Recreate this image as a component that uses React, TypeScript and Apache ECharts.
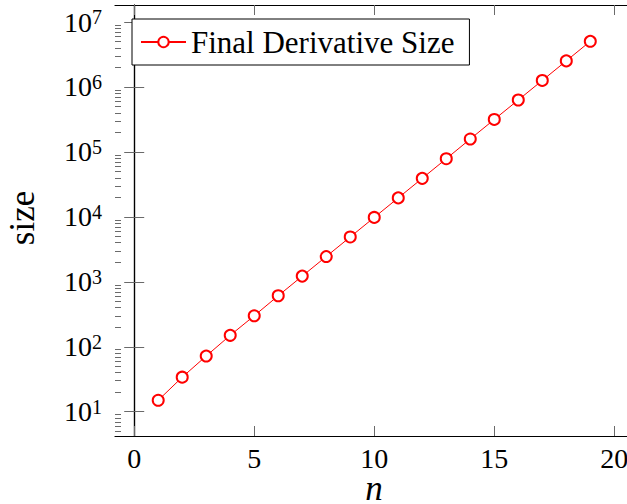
import React, { useEffect, useRef } from "react";
import * as echarts from "echarts";

const N_VALUES = [1, 2, 3, 4, 5, 6, 7, 8, 9, 10, 11, 12, 13, 14, 15, 16, 17, 18, 19];
const SIZE_VALUES = [
  15, 34, 72, 150, 300, 610, 1225, 2450, 4900, 9800, 19600, 39200, 78500, 158000,
  316000, 630000, 1260000, 2520000, 5050000,
];
const X_TICKS = [0, 5, 10, 15, 20];
const Y_MAJOR = [1e1, 1e2, 1e3, 1e4, 1e5, 1e6, 1e7];
const X_MIN = -0.8;
const X_MAX = 20.8;
const Y_MIN = Math.pow(10, 0.626);
const Y_MAX = Math.pow(10, 7.262);
const SERIES_NAME = "Final Derivative Size";
const X_NAME = "n";
const Y_NAME = "size";

const Y_MINOR: number[] = [];
for (let k = 0; k <= 7; k++) {
  for (let m = 2; m <= 9; m++) {
    const v = m * Math.pow(10, k);
    if (v > Y_MIN && v < Y_MAX) Y_MINOR.push(v);
  }
}

const FONT = "'Liberation Serif', 'DejaVu Serif', serif";
const RED = "#ff0000";
const TICK = "#6a6a6a";

export default function App() {
  const ref = useRef<HTMLDivElement>(null);
  useEffect(() => {
    if (!ref.current) return;
    const chart = echarts.init(ref.current, undefined, { renderer: "svg" });
    const logAxis = (pos: string, ticks: number[], len: number, showLine: boolean) => ({
      type: "log",
      logBase: 10,
      min: Y_MIN,
      max: Y_MAX,
      position: pos,
      axisLine: { show: showLine, lineStyle: { color: "#000", width: 1.2 } },
      axisTick: {
        show: true,
        inside: true,
        length: len,
        customValues: ticks,
        lineStyle: { color: TICK, width: 1 },
      },
      axisLabel: { show: false },
      splitLine: { show: false },
      minorTick: { show: false },
    });
    chart.setOption({
      animation: false,
      backgroundColor: "#fff",
      grid: { left: 115, top: 5, right: -6.5, bottom: 68, outerBoundsMode: "none", containLabel: false },
      legend: {
        left: 132,
        top: 19,
        padding: [7, 15, 7, 8],
        borderColor: "#000",
        borderWidth: 1,
        borderRadius: 0,
        backgroundColor: "#fff",
        itemWidth: 45,
        itemHeight: 13,
        textStyle: { fontFamily: FONT, fontSize: 31, color: "#000", lineHeight: 32 },
        data: [SERIES_NAME],
      },
      graphic: [
        {
          type: "text",
          x: 374,
          y: 488,
          style: {
            text: X_NAME,
            fontFamily: FONT,
            fontSize: 35,
            fontStyle: "italic",
            fill: "#000",
            align: "center",
            verticalAlign: "middle",
            lineHeight: 20,
          },
        },
        {
          type: "text",
          x: 22,
          y: 218,
          rotation: Math.PI / 2,
          style: {
            text: Y_NAME,
            fontFamily: FONT,
            fontSize: 35,
            fill: "#000",
            align: "center",
            verticalAlign: "middle",
          },
        },
      ],
      xAxis: [
        {
          type: "value",
          min: X_MIN,
          max: X_MAX,
          position: "bottom",
          axisLine: { show: true, onZero: false, lineStyle: { color: "#000", width: 1.2 } },
          axisTick: { show: true, inside: true, length: 10, customValues: X_TICKS, lineStyle: { color: TICK, width: 1 } },
          axisLabel: {
            customValues: X_TICKS,
            margin: 10,
            fontFamily: FONT,
            fontSize: 28,
            color: "#000",
            lineHeight: 24,
          },
          splitLine: { show: false },
        },
        {
          type: "value",
          min: X_MIN,
          max: X_MAX,
          position: "top",
          axisLine: { show: true, onZero: false, lineStyle: { color: "#000", width: 1.2 } },
          axisTick: { show: true, inside: true, length: 10, customValues: X_TICKS, lineStyle: { color: TICK, width: 1 } },
          axisLabel: { show: false },
          splitLine: { show: false },
        },
      ],
      yAxis: [
        {
          ...logAxis("left", Y_MAJOR, 10, true),
          axisLabel: {
            show: true,
            customValues: Y_MAJOR,
            margin: 13,
            formatter: (v: number) => `{b|10}{s|${Math.round(Math.log10(v))}}`,
            rich: {
              b: { fontFamily: FONT, fontSize: 28, color: "#000", lineHeight: 30 },
              s: { fontFamily: FONT, fontSize: 20, color: "#000", lineHeight: 22, verticalAlign: "top" },
            },
          },
        },
        logAxis("right", Y_MAJOR, 10, true),
        logAxis("left", Y_MINOR, 6, false),
        logAxis("right", Y_MINOR, 6, false),
      ],
      series: [
        {
          name: SERIES_NAME,
          type: "line",
          xAxisIndex: 0,
          yAxisIndex: 0,
          data: N_VALUES.map((n, i) => [n, SIZE_VALUES[i]]),
          symbol: "emptyCircle",
          symbolSize: 11,
          color: RED,
          itemStyle: { color: RED, borderColor: RED, borderWidth: 1 },
          lineStyle: { color: RED, width: 1 },
          clip: false,
        },
      ],
    });
    return () => chart.dispose();
  }, []);
  return <div ref={ref} style={{ position: "fixed", left: 0, top: 0, width: 627, height: 504 }} />;
}
